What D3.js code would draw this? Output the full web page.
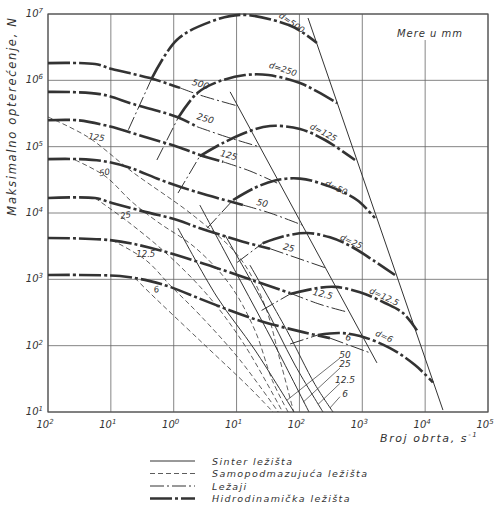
<!DOCTYPE html>
<html>
<head>
<meta charset="utf-8">
<script src="https://cdn.jsdelivr.net/npm/d3@7"></script>
<style>
  body { margin: 0; background: #fff; }
  text { font-family: "DejaVu Sans", sans-serif; font-style: italic; fill: #333; }
</style>
</head>
<body>
<svg id="chart" width="494" height="508"></svg>
<script>
// ---- data (n in s^-1, F in N) ----
const xTicks = [1e-2, 1e-1, 1e0, 1e1, 1e2, 1e3, 1e4, 1e5];
const xTickExp = ["2", "1", "0", "1", "2", "3", "4", "5"];
const yTicks = [1e1, 1e2, 1e3, 1e4, 1e5, 1e6, 1e7];
const yTickExp = ["1", "2", "3", "4", "5", "6", "7"];

// rolling bearings (Ležaji): thick part, then thin part
const bearingNames = ["500", "250", "125", "50", "25", "12.5", "6"];
const bearingThick = [
  [[0.01, 1.82e6], [0.056, 1.76e6], [0.104, 1.48e6], [0.42, 1.08e6], [1.26, 7.7e5]],
  [[0.01, 6.7e5], [0.067, 6.2e5], [0.225, 4.4e5], [1.13, 2.8e5], [2.34, 2.0e5]],
  [[0.01, 2.5e5], [0.03, 2.5e5], [0.081, 2.1e5], [0.35, 1.4e5], [1.17, 9.9e4], [2.6, 7.5e4], [6.1, 5.9e4]],
  [[0.01, 6.5e4], [0.03, 6.5e4], [0.072, 6.1e4], [0.19, 4.9e4], [0.65, 3.1e4], [2.2, 2.1e4], [12.6, 1.32e4]],
  [[0.01, 1.68e4], [0.056, 1.68e4], [0.104, 1.42e4], [0.35, 1.04e4], [1.17, 7.8e3], [2.35, 6.1e3], [12.6, 3.7e3], [34, 2.9e3]],
  [[0.01, 4.2e3], [0.097, 3.9e3], [0.42, 3.0e3], [2.6, 1.8e3], [19.6, 940], [71, 620]],
  [[0.01, 1.16e3], [0.14, 1.12e3], [0.42, 940], [0.87, 770], [2.9, 490], [7.9, 340], [26, 230], [114, 160], [306, 130]]
];
const bearingThin = [
  [[1.26, 7.7e5], [2.6, 6.0e5], [10.5, 4.1e5]],
  [[2.34, 2.0e5], [7.0, 1.4e5], [23.6, 9.9e4]],
  [[6.1, 5.9e4], [16.3, 4.3e4], [49, 2.7e4]],
  [[12.6, 1.32e4], [34, 1.0e4], [110, 6.6e3]],
  [[34, 2.9e3], [255, 1.5e3]],
  [[71, 620], [212, 420], [590, 320]],
  [[306, 130], [1325, 78]]
];

// hydrodynamic bearings: thin rising start, then thick arch
const hydroNames = ["d=500", "d=250", "d=125", "d=50", "d=25", "d=12.5", "d=6"];
const hydroStart = [
  [[0.19, 1.8e5], [0.45, 1.08e6]],
  [[0.54, 6.3e4], [1.17, 2.7e5]],
  [[1.17, 2.0e4], [2.6, 7.2e4]],
  [[3.4, 5.9e3], [8.8, 1.57e4]],
  [[10.2, 1.8e3], [26, 3.5e3]],
  [[25, 340], [71, 600]],
  [[71, 106], [197, 145]]
];
const hydroArc = [
  [[0.45, 1.08e6], [1.13, 4.1e6], [3.8, 7.6e6], [11.3, 9.7e6], [38, 8.1e6], [85, 6.2e6], [190, 3.65e6]],
  [[1.17, 2.7e5], [2.35, 6.4e5], [4.9, 9.4e5], [13.6, 1.2e6], [32, 1.2e6], [102, 9.1e5], [197, 6.7e5], [396, 4.55e5]],
  [[2.6, 7.2e4], [6.1, 1.14e5], [16.3, 1.72e5], [34, 2.05e5], [102, 1.85e5], [255, 1.26e5], [765, 6.3e4]],
  [[8.8, 1.57e4], [19.6, 2.4e4], [41, 3.1e4], [102, 3.3e4], [306, 2.5e4], [824, 1.57e4], [1590, 8.4e3]],
  [[26, 3.5e3], [59, 4.5e3], [132, 5.0e3], [306, 4.3e3], [637, 3.2e3], [1480, 1.95e3], [3310, 1.16e3]],
  [[71, 600], [197, 740], [368, 770], [918, 640], [2300, 440], [4440, 310], [7420, 170]],
  [[197, 145], [442, 155], [918, 140], [2760, 92], [6900, 51], [13300, 28]]
];

// sinter bearings and limit lines (thin solid)
const sinterLines = [
  [[137, 8.7e6], [19200, 10.7]],
  [[7.9, 6.7e5], [1710, 55]],
  [[1.17, 5.9e3], [4.9, 540], [19.6, 86], [82, 10]],
  [[2.6, 1.32e4], [11.3, 980], [41, 100], [142, 10]],
  [[6.5, 4.7e3], [25, 490], [85, 51], [237, 10]],
  [[16.3, 1.64e3], [63, 170], [177, 26], [342, 10]]
];

// self-lubricating bearings (thin dashed)
const dashedNames = ["125", "50", "25", "12.5", "6"];
const dashedLines = [
  [[0.01, 2.8e5], [0.043, 1.4e5], [0.217, 4.2e4], [2.2, 8.7e3], [11.3, 2.1e3], [28, 410], [49, 61], [81, 10]],
  [[0.027, 6.3e4], [0.081, 3.6e4], [0.217, 1.47e4], [0.56, 7.3e3], [2.2, 3.0e3], [7.9, 820], [19.6, 170], [37, 30], [66, 10]],
  [[0.056, 1.68e4], [0.19, 7.3e3], [0.87, 2.2e3], [3.8, 520], [13.6, 100], [54, 10]],
  [[0.104, 3.9e3], [0.36, 1.95e3], [0.87, 820], [2.6, 290], [11.3, 61], [46, 10]],
  [[0.24, 1.05e3], [0.42, 620], [2.6, 120], [16.3, 23], [38, 10]]
];

// annotation anchors [n, F, angle]
const bearingLabelAt = [[2.6, 7.9e5, 16], [3.1, 2.4e5, 16], [7.3, 6.7e4, 14], [25, 1.27e4, 14], [66, 2.7e3, 14], [229, 540, 14], [590, 120, 10]];
const dashedLabelAt = [[0.058, 1.26e5, 8], [0.081, 3.7e4, -10], [0.174, 8.4e3, -10], [0.36, 2.2e3, 0], [0.54, 640, -10]];
const hydroLabelAt = [[71, 6.8e6, 35], [53, 1.34e6, 18], [229, 1.5e5, 28], [368, 2.2e4, 25], [637, 3.4e3, 25], [2130, 500, 25], [2130, 126, 25]];
const leaderNames = ["50", "25", "12.5", "6"];
const leaderFrom = [[442, 65], [442, 46], [442, 27], [442, 17]];
const leaderTo = [[63, 15], [114, 14], [197, 13], [306, 11.5]];
const leaderTextAt = [[531, 72], [531, 53], [531, 30], [531, 19]];

const legendNames = ["Sinter ležišta", "Samopodmazujuća ležišta", "Ležaji", "Hidrodinamička ležišta"];

// ---- drawing ----
const svg = d3.select("#chart");
const plotL = 48, plotR = 488, plotT = 14, plotB = 412;
const x = d3.scaleLog().domain([1e-2, 1e5]).range([plotL, plotR]);
const y = d3.scaleLog().domain([1e1, 1e7]).range([plotB, plotT]);
const ink = "#333";

const line = d3.line()
  .x(d => x(d[0]))
  .y(d => y(d[1]))
  .curve(d3.curveCatmullRom.alpha(0.5));

const styles = {
  solid: { w: 1, dash: null },
  dashed: { w: 0.8, dash: "5,3" },
  thinDot: { w: 1, dash: "14,3,2,3" },
  thickDot: { w: 2.6, dash: "22,3,3,3" }
};

function drawPath(g, pts, st) {
  const s = styles[st];
  g.append("path")
    .attr("d", line(pts))
    .attr("fill", "none")
    .attr("stroke", ink)
    .attr("stroke-width", s.w)
    .attr("stroke-dasharray", s.dash);
}

// grid
const grid = svg.append("g").attr("stroke", "#666").attr("stroke-width", 0.8);
xTicks.forEach(t => {
  grid.append("line")
    .attr("x1", x(t)).attr("x2", x(t))
    .attr("y1", t === 1e4 ? 40 : plotT).attr("y2", plotB);
});
yTicks.forEach(t => {
  grid.append("line")
    .attr("x1", plotL).attr("x2", plotR)
    .attr("y1", y(t)).attr("y2", y(t));
});
svg.append("rect")
  .attr("x", plotL).attr("y", plotT)
  .attr("width", plotR - plotL).attr("height", plotB - plotT)
  .attr("fill", "none").attr("stroke", "#555").attr("stroke-width", 1.2);

// tick labels
svg.append("g").selectAll("text").data(xTicks).join("text")
  .attr("x", d => x(d) - 3).attr("y", plotB + 16)
  .attr("text-anchor", "middle").attr("font-size", 10)
  .each(function (d, i) {
    const t = d3.select(this);
    t.append("tspan").text("10");
    t.append("tspan").attr("dy", -4).attr("font-size", 7).text(xTickExp[i]);
  });
svg.append("g").selectAll("text").data(yTicks).join("text")
  .attr("x", plotL - 5).attr("y", d => y(d) + 3)
  .attr("text-anchor", "end").attr("font-size", 10)
  .each(function (d, i) {
    const t = d3.select(this);
    t.append("tspan").text("10");
    t.append("tspan").attr("dy", -4).attr("font-size", 7).text(yTickExp[i]);
  });

// curves
const curves = svg.append("g");
sinterLines.forEach(p => drawPath(curves, p, "solid"));
dashedLines.forEach(p => drawPath(curves, p, "dashed"));
bearingThin.forEach(p => drawPath(curves, p, "thinDot"));
bearingThick.forEach(p => drawPath(curves, p, "thickDot"));
hydroStart.forEach(p => drawPath(curves, p, "thinDot"));
hydroArc.forEach(p => drawPath(curves, p, "thickDot"));

// curve labels
function label(txt, at, size) {
  svg.append("text")
    .attr("transform", `translate(${x(at[0])},${y(at[1])}) rotate(${at[2]})`)
    .attr("text-anchor", "middle").attr("font-size", size)
    .text(txt);
}
bearingNames.forEach((n, i) => label(n, bearingLabelAt[i], 9));
dashedNames.forEach((n, i) => label(n, dashedLabelAt[i], 8.5));
hydroNames.forEach((n, i) => label(n, hydroLabelAt[i], 8.5));

leaderNames.forEach((n, i) => {
  svg.append("line")
    .attr("x1", x(leaderFrom[i][0])).attr("y1", y(leaderFrom[i][1]))
    .attr("x2", x(leaderTo[i][0])).attr("y2", y(leaderTo[i][1]))
    .attr("stroke", ink).attr("stroke-width", 0.7);
  svg.append("text")
    .attr("x", x(leaderTextAt[i][0])).attr("y", y(leaderTextAt[i][1]) + 3)
    .attr("text-anchor", "middle").attr("font-size", 9)
    .text(n);
});

// "Mere u mm"
svg.append("text").attr("x", 430).attr("y", 37)
  .attr("text-anchor", "middle").attr("font-size", 10).attr("letter-spacing", 1)
  .text("Mere u mm");

// axis titles
svg.append("text")
  .attr("transform", "translate(16,116) rotate(-90)")
  .attr("text-anchor", "middle").attr("font-size", 11.5).attr("letter-spacing", 1.7)
  .text("Maksimalno opterećenje, N");
const xt = svg.append("text").attr("x", 380).attr("y", 442)
  .attr("font-size", 11).attr("letter-spacing", 1.6);
xt.append("tspan").text("Broj obrta,  s");
xt.append("tspan").attr("dy", -5).attr("font-size", 7).text("-1");

// legend
const legendStyles = ["solid", "dashed", "thinDot", "thickDot"];
const lg = svg.append("g");
legendNames.forEach((n, i) => {
  const yy = 461 + i * 12.5;
  const s = styles[legendStyles[i]];
  lg.append("line")
    .attr("x1", 150).attr("x2", 195).attr("y1", yy).attr("y2", yy)
    .attr("stroke", ink).attr("stroke-width", s.w)
    .attr("stroke-dasharray", s.dash);
  lg.append("text").attr("x", 212).attr("y", yy + 3.5)
    .attr("font-size", 9.5).attr("letter-spacing", 1.4)
    .text(n);
});
</script>
</body>
</html>
